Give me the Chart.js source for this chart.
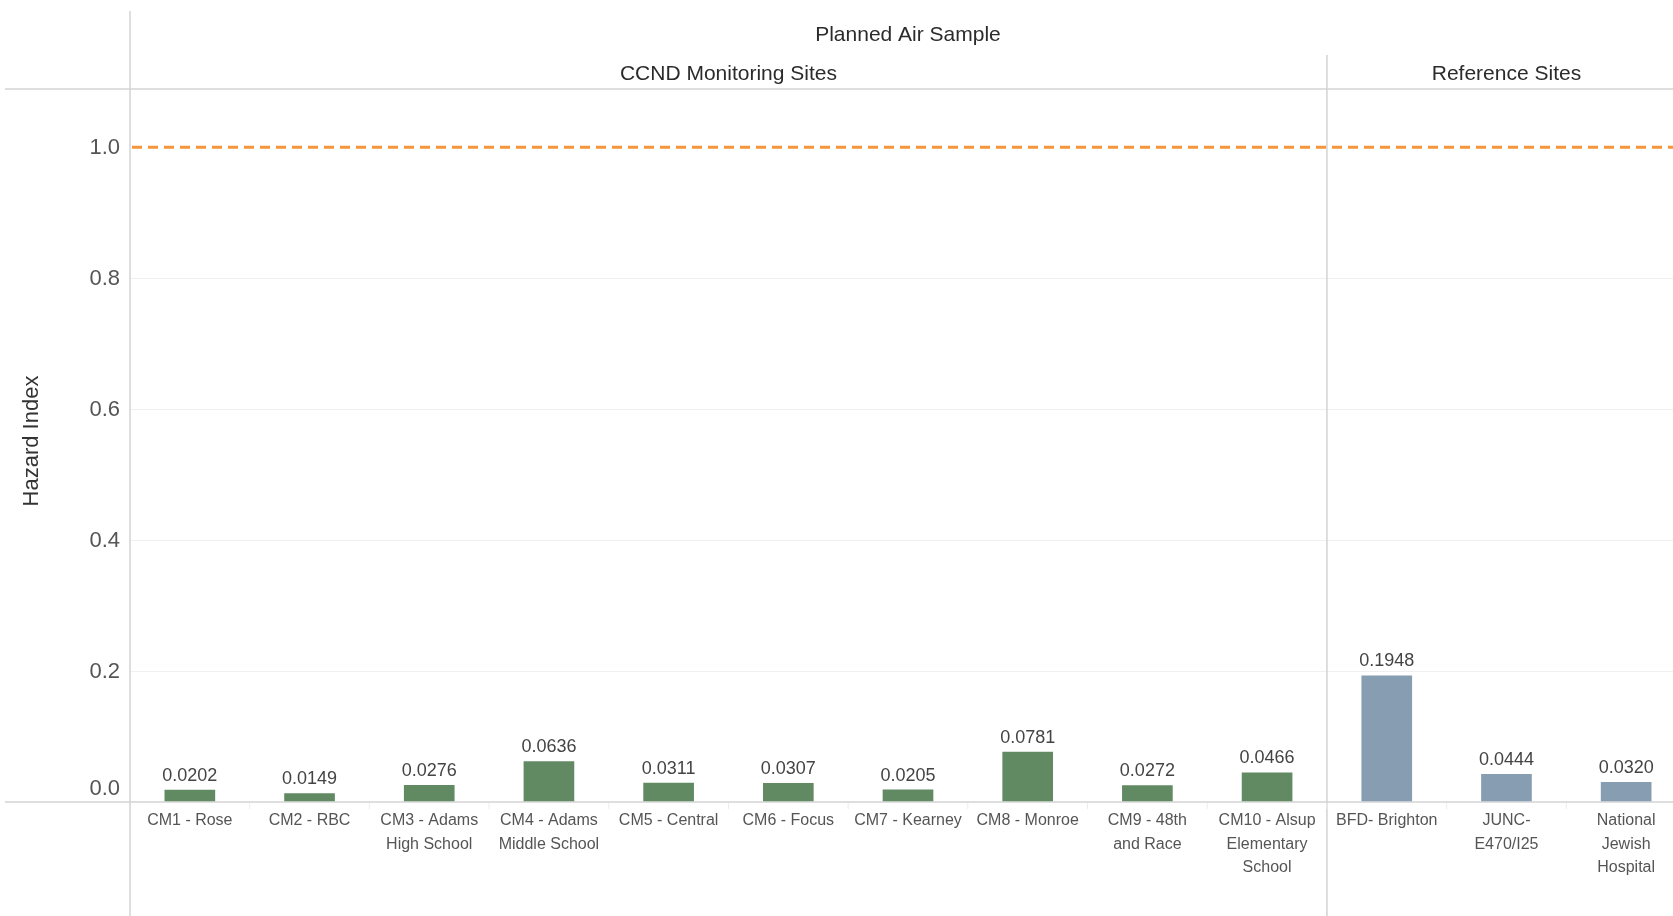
<!DOCTYPE html>
<html>
<head>
<meta charset="utf-8">
<script src="https://cdn.jsdelivr.net/npm/chart.js@4"></script>
<style>
  html, body { margin: 0; padding: 0; background: #ffffff; overflow: hidden; }
  #wrap { position: absolute; left: 0; top: 0; width: 1690px; height: 916px; }
</style>
</head>
<body>
<div id="wrap"><canvas id="chart"></canvas></div>
<script>
const TITULO = "Planned Air Sample";
const GRUPOS = ["CCND Monitoring Sites", "Reference Sites"];
const CATEGORIAS = [
  ["CM1 - Rose"],
  ["CM2 - RBC"],
  ["CM3 - Adams", "High School"],
  ["CM4 - Adams", "Middle School"],
  ["CM5 - Central"],
  ["CM6 - Focus"],
  ["CM7 - Kearney"],
  ["CM8 - Monroe"],
  ["CM9 - 48th", "and Race"],
  ["CM10 - Alsup", "Elementary", "School"],
  ["BFD- Brighton"],
  ["JUNC-", "E470/I25"],
  ["National", "Jewish", "Hospital"]
];
const GRUPO_DE_CATEGORIA = [0, 0, 0, 0, 0, 0, 0, 0, 0, 0, 1, 1, 1];
const VALORES = [0.0202, 0.0149, 0.0276, 0.0636, 0.0311, 0.0307, 0.0205, 0.0781, 0.0272, 0.0466, 0.1948, 0.0444, 0.0320];
const TICKS_Y = [0, 0.2, 0.4, 0.6, 0.8, 1.0];
const LINEA_REFERENCIA = 1.0;
const EJE_Y_TITULO = "Hazard Index";

const COLORES_GRUPO = ["#618a63", "#879db2"];
const LINEA = "#d3d3d3";
const FUENTE = "'Liberation Sans', Arial, sans-serif";

const pluginDecoracion = {
  id: "decoracion",
  beforeDatasetsDraw(chart) {
    const { ctx, chartArea, scales } = chart;
    const x = scales.x;
    const y = scales.y;
    const W = chart.width;
    const H = chart.height;
    const divisor = (x.getPixelForValue(9) + x.getPixelForValue(10)) / 2;
    const paso = x.getPixelForValue(1) - x.getPixelForValue(0);

    ctx.save();
    ctx.strokeStyle = LINEA;
    ctx.lineWidth = 1.5;
    ctx.beginPath();
    // eje y
    ctx.moveTo(chartArea.left, 11);
    ctx.lineTo(chartArea.left, H);
    // linea de cabecera
    ctx.moveTo(5, chartArea.top);
    ctx.lineTo(W, chartArea.top);
    // linea base
    ctx.moveTo(5, chartArea.bottom);
    ctx.lineTo(W, chartArea.bottom);
    // divisor de grupos
    ctx.moveTo(divisor, 55);
    ctx.lineTo(divisor, H);
    ctx.stroke();

    // marcas entre categorias
    ctx.strokeStyle = "#ececec";
    ctx.lineWidth = 1;
    ctx.beginPath();
    CATEGORIAS.forEach((_, i) => {
      const xb = x.getPixelForValue(i) + paso / 2;
      ctx.moveTo(xb, chartArea.bottom + 1);
      ctx.lineTo(xb, chartArea.bottom + 7);
    });
    ctx.stroke();

    // linea de referencia
    const yRef = y.getPixelForValue(LINEA_REFERENCIA);
    ctx.strokeStyle = "#f5963a";
    ctx.lineWidth = 3;
    ctx.setLineDash([10, 6]);
    ctx.beginPath();
    ctx.moveTo(chartArea.left + 2, yRef);
    ctx.lineTo(W, yRef);
    ctx.stroke();
    ctx.setLineDash([]);
    ctx.restore();
  },
  afterDatasetsDraw(chart) {
    const { ctx, chartArea, scales } = chart;
    const x = scales.x;
    const y = scales.y;
    const meta = chart.getDatasetMeta(0);
    const divisor = (x.getPixelForValue(9) + x.getPixelForValue(10)) / 2;

    ctx.save();
    // etiquetas de valores
    ctx.textAlign = "center";
    ctx.textBaseline = "bottom";
    ctx.fillStyle = "#444444";
    ctx.font = "18px " + FUENTE;
    VALORES.forEach((valor, i) => {
      const barra = meta.data[i];
      ctx.fillText(valor.toFixed(4), barra.x, barra.y - 4);
    });

    // etiquetas de categorias
    ctx.fillStyle = "#555555";
    ctx.font = "16px " + FUENTE;
    ctx.textBaseline = "middle";
    CATEGORIAS.forEach((lineas, i) => {
      const cx = x.getPixelForValue(i);
      lineas.forEach((texto, j) => {
        ctx.fillText(texto, cx, chartArea.bottom + 19 + j * 23.5);
      });
    });

    // ticks del eje y
    ctx.textAlign = "right";
    ctx.fillStyle = "#555555";
    ctx.font = "22px " + FUENTE;
    TICKS_Y.forEach((v) => {
      const py = Math.min(y.getPixelForValue(v), chartArea.bottom - 14);
      ctx.fillText(v.toFixed(1), chartArea.left - 10, py + 1);
    });

    // titulo del eje y
    ctx.save();
    ctx.translate(32, 441);
    ctx.rotate(-Math.PI / 2);
    ctx.textAlign = "center";
    ctx.fillStyle = "#333333";
    ctx.font = "22px " + FUENTE;
    ctx.fillText(EJE_Y_TITULO, 0, 0);
    ctx.restore();

    // cabeceras
    ctx.textAlign = "center";
    ctx.fillStyle = "#2b2b2b";
    ctx.font = "21px " + FUENTE;
    ctx.fillText(TITULO, (chartArea.left + chartArea.right) / 2, 35);
    ctx.fillText(GRUPOS[0], (chartArea.left + divisor) / 2, 74);
    ctx.fillText(GRUPOS[1], (divisor + chartArea.right) / 2, 74);
    ctx.restore();
  }
};

new Chart(document.getElementById("chart"), {
  type: "bar",
  data: {
    labels: CATEGORIAS,
    datasets: [
      {
        data: VALORES,
        backgroundColor: GRUPO_DE_CATEGORIA.map((g) => COLORES_GRUPO[g]),
        borderColor: "rgba(255,255,255,0.35)",
        borderWidth: 1,
        categoryPercentage: 1,
        barPercentage: 0.44
      }
    ]
  },
  options: {
    responsive: true,
    maintainAspectRatio: false,
    animation: false,
    layout: {
      padding: { left: 130, right: 4, top: 89, bottom: 114 }
    },
    plugins: {
      legend: { display: false },
      tooltip: { enabled: false }
    },
    scales: {
      x: {
        grid: { display: false, drawTicks: false },
        border: { display: false },
        ticks: { display: false }
      },
      y: {
        min: 0,
        max: 1.089,
        ticks: { display: false, stepSize: 0.2 },
        grid: {
          drawTicks: false,
          color: (c) => (c.tick.value > 0 && c.tick.value < 0.9 ? "#f0f0f0" : "rgba(0,0,0,0)")
        },
        border: { display: false }
      }
    }
  },
  plugins: [pluginDecoracion]
});
</script>
</body>
</html>
